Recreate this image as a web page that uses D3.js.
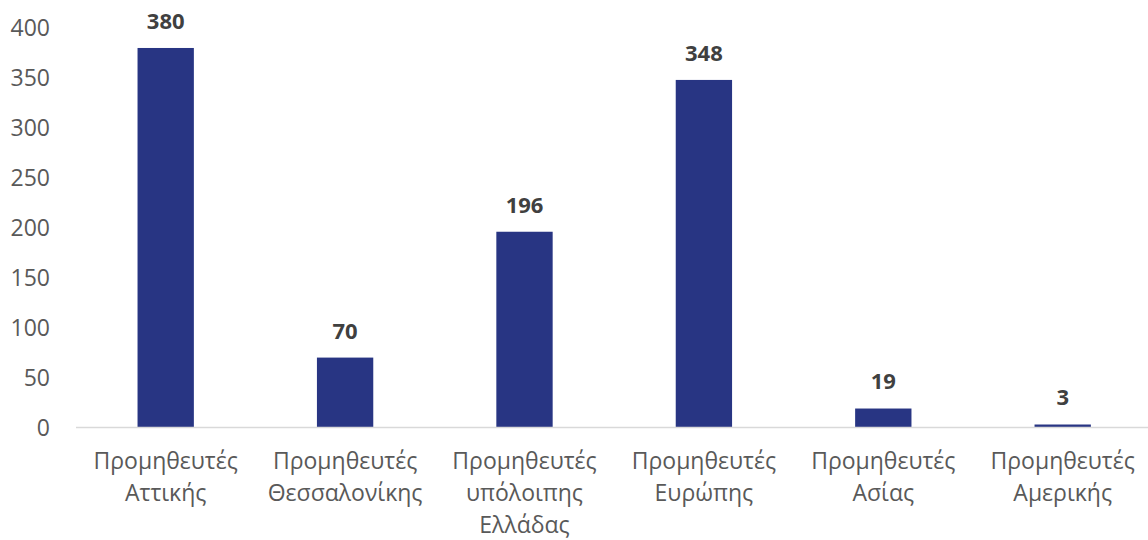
<!DOCTYPE html>
<html><head><meta charset="utf-8">
<script src="https://cdn.jsdelivr.net/npm/d3@7"></script>
<style>body{margin:0;background:#fff}svg{display:block}</style>
</head><body>
<svg id="c" width="1148" height="540"></svg>
<script>
const categories = [
  ["Προμηθευτές","Αττικής"],
  ["Προμηθευτές","Θεσσαλονίκης"],
  ["Προμηθευτές","υπόλοιπης","Ελλάδας"],
  ["Προμηθευτές","Ευρώπης"],
  ["Προμηθευτές","Ασίας"],
  ["Προμηθευτές","Αμερικής"]
];
const values = [380, 70, 196, 348, 19, 3];
const yTicks = [0, 50, 100, 150, 200, 250, 300, 350, 400];

const svg = d3.select("#c");
const font = "'Open Sans', sans-serif";
const x = d3.scaleBand().domain(d3.range(categories.length)).range([76, 1152.4]).paddingInner(0.686).paddingOuter(0.343);
const y = d3.scaleLinear().domain([0, 400]).range([427.5, 28]);

// y tick labels
svg.append("g").selectAll("text").data(yTicks).join("text")
  .attr("x", 50).attr("y", d => y(d)).attr("dy", "0.36em")
  .attr("text-anchor", "end").attr("fill", "#595959")
  .style("font-family", font).style("font-size", "23px").text(d => d);

// bars
svg.append("g").selectAll("rect").data(values).join("rect")
  .attr("x", (d, i) => x(i)).attr("width", x.bandwidth())
  .attr("y", d => y(d)).attr("height", d => y(0) - y(d))
  .attr("fill", "#283583");

// baseline
svg.append("line").attr("x1", 76).attr("x2", 1148).attr("y1", y(0)).attr("y2", y(0))
  .attr("stroke", "#d9d9d9").attr("stroke-width", 1.5);

// data labels
svg.append("g").selectAll("text").data(values).join("text")
  .attr("x", (d, i) => x(i) + x.bandwidth() / 2).attr("y", d => y(d) - 27).attr("dy", "0.36em")
  .attr("text-anchor", "middle").attr("fill", "#404040").attr("font-weight", "bold")
  .style("font-family", font).style("font-size", "22px").text(d => d);

// category labels
const cg = svg.append("g").selectAll("text").data(categories).join("text")
  .attr("text-anchor", "middle").attr("fill", "#595959")
  .style("font-family", font).style("font-size", "23px");
cg.each(function(lines, i) {
  d3.select(this).selectAll("tspan").data(lines).join("tspan")
    .attr("x", x(i) + x.bandwidth() / 2).attr("y", (d, j) => 469 + j * 32).text(d => d);
});
</script>
</body></html>
